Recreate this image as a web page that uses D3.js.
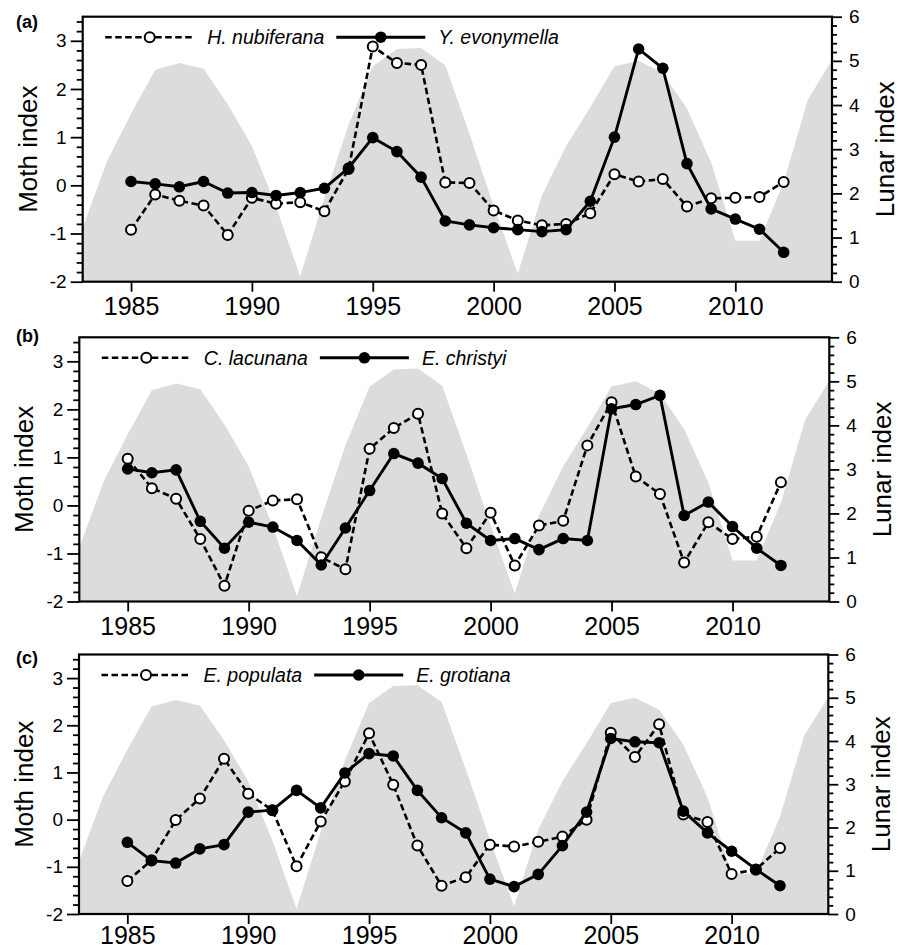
<!DOCTYPE html>
<html><head><meta charset="utf-8">
<script src="https://cdn.jsdelivr.net/npm/d3@7"></script>
<style>
body{margin:0;background:#fff;}
svg{display:block;font-family:"Liberation Sans",Arial,Helvetica,sans-serif;}
</style>
</head><body>
<svg id="chart" width="906" height="948"></svg>
<script>
// ---------- DATA ----------
const lunarYears = [1983,1984,1985,1986,1987,1988,1989,1990,1991,1992,1993,1994,1995,1996,1997,1998,1999,2000,2001,2002,2003,2004,2005,2006,2007,2008,2009,2010,2011,2012,2013,2014];
const lunarIndex = [1.22,2.72,3.8,4.8,4.95,4.82,4.02,3.07,1.7,0.12,1.9,3.55,4.88,5.27,5.29,4.9,3.35,1.72,0.18,1.95,3.07,3.95,4.88,5.0,4.72,3.92,2.7,0.93,0.93,2.25,4.12,5.02];

const mothYears = [1985,1986,1987,1988,1989,1990,1991,1992,1993,1994,1995,1996,1997,1998,1999,2000,2001,2002,2003,2004,2005,2006,2007,2008,2009,2010,2011,2012];

const hNubiferana = [-0.92,-0.19,-0.32,-0.42,-1.03,-0.26,-0.38,-0.35,-0.54,0.34,2.88,2.54,2.50,0.06,0.05,-0.52,-0.73,-0.83,-0.80,-0.58,0.23,0.08,0.13,-0.44,-0.27,-0.26,-0.24,0.07];
const yEvonymella = [0.08,0.03,-0.03,0.08,-0.16,-0.15,-0.21,-0.15,-0.06,0.36,0.99,0.70,0.17,-0.74,-0.82,-0.88,-0.92,-0.96,-0.92,-0.33,1.00,2.83,2.43,0.45,-0.49,-0.70,-0.91,-1.39];

const cLacunana = [0.97,0.36,0.14,-0.70,-1.67,-0.11,0.10,0.13,-1.08,-1.33,1.18,1.61,1.91,-0.17,-0.89,-0.15,-1.25,-0.42,-0.32,1.25,2.15,0.60,0.24,-1.19,-0.35,-0.70,-0.65,0.48];
const eChristyi = [0.76,0.68,0.74,-0.33,-0.89,-0.35,-0.45,-0.73,-1.24,-0.47,0.31,1.08,0.88,0.56,-0.37,-0.73,-0.69,-0.92,-0.69,-0.73,2.01,2.10,2.29,-0.21,0.07,-0.44,-0.89,-1.25];

const ePopulata = [-1.30,-0.86,-0.01,0.45,1.29,0.55,0.20,-0.99,-0.04,0.81,1.83,0.74,-0.55,-1.40,-1.22,-0.53,-0.57,-0.47,-0.36,0.00,1.84,1.33,2.02,0.11,-0.05,-1.15,-1.06,-0.60];
const eGrotiana = [-0.48,-0.87,-0.92,-0.62,-0.53,0.16,0.20,0.62,0.25,0.99,1.40,1.35,0.62,0.04,-0.28,-1.26,-1.42,-1.16,-0.55,0.16,1.72,1.65,1.63,0.18,-0.28,-0.67,-1.05,-1.40];

const panelLetters = ["(a)","(b)","(c)"];
const dashedNames = ["H. nubiferana","C. lacunana","E. populata"];
const solidNames = ["Y. evonymella","E. christyi","E. grotiana"];
const dashedSeries = [hNubiferana, cLacunana, ePopulata];
const solidSeries = [yEvonymella, eChristyi, eGrotiana];

const xTicks = [1985,1990,1995,2000,2005,2010];
const leftTicks = [-2,-1,0,1,2,3];
const rightTicks = [0,1,2,3,4,5,6];
const leftMinor = [-1.8,-1.6,-1.4,-1.2,-0.8,-0.6,-0.4,-0.2,0.2,0.4,0.6,0.8,1.2,1.4,1.6,1.8,2.2,2.4,2.6,2.8,3.2,3.4];
const rightMinor = [0.2,0.4,0.6,0.8,1.2,1.4,1.6,1.8,2.2,2.4,2.6,2.8,3.2,3.4,3.6,3.8,4.2,4.4,4.6,4.8,5.2,5.4,5.6,5.8];

// ---------- LAYOUT ----------
const panels = [
  {left:82.7, right:832,   top:16.7,  bottom:281.7, labelY:28,    xPad:6},
  {left:79.3, right:829.3, top:337.3, bottom:601.5, labelY:341.5, xPad:6},
  {left:79,   right:828.3, top:654.5, bottom:914,   labelY:664,   xPad:2}
];
const GRAY = "#dcdcdc";
const svg = d3.select("#chart");

panels.forEach((p, i) => {
  const g = svg.append("g");
  const x = d3.scaleLinear().domain([1983, 2014]).range([p.left, p.right]);
  const yL = d3.scaleLinear().domain([-2, 3.5]).range([p.bottom, p.top]);
  const yR = d3.scaleLinear().domain([0, 6]).range([p.bottom, p.top]);

  // lunar area
  const area = d3.area()
    .x((d, k) => x(lunarYears[k]))
    .y0(yR(0))
    .y1(d => yR(d));
  g.append("path").datum(lunarIndex).attr("d", area).attr("fill", GRAY);

  // axes
  const fmt = d => String(d);
  const styleAxis = (sel, fs) => {
    sel.select(".domain").remove();
    sel.selectAll(".tick line").attr("stroke", "#000").attr("stroke-width", 1.8);
    sel.selectAll(".tick text").attr("fill", "#000").style("font-size", fs + "px")
      .style("font-family", '"Liberation Sans",Arial,Helvetica,sans-serif');
  };
  g.append("g").attr("transform", `translate(${p.left},0)`)
    .call(d3.axisLeft(yL).tickValues(leftTicks).tickSize(12).tickPadding(4).tickFormat(fmt))
    .call(s => styleAxis(s, 19));
  g.append("g").attr("transform", `translate(${p.left},0)`)
    .call(d3.axisLeft(yL).tickValues(leftMinor).tickSize(6).tickFormat(""))
    .call(s => styleAxis(s, 19));
  g.append("g").attr("transform", `translate(${p.right},0)`)
    .call(d3.axisRight(yR).tickValues(rightTicks).tickSize(10).tickPadding(7).tickFormat(fmt))
    .call(s => styleAxis(s, 19));
  g.append("g").attr("transform", `translate(${p.right},0)`)
    .call(d3.axisRight(yR).tickValues(rightMinor).tickSize(5).tickFormat(""))
    .call(s => styleAxis(s, 19));
  g.append("g").attr("transform", `translate(0,${p.bottom})`)
    .call(d3.axisBottom(x).tickValues(xTicks).tickSize(10).tickPadding(p.xPad).tickFormat(fmt))
    .call(s => styleAxis(s, 25));

  // frame
  g.append("rect").attr("x", p.left).attr("y", p.top)
    .attr("width", p.right - p.left).attr("height", p.bottom - p.top)
    .attr("fill", "none").attr("stroke", "#000").attr("stroke-width", 2.2);

  // series
  const line = d3.line().x((d, k) => x(mothYears[k])).y(d => yL(d));
  g.append("path").datum(dashedSeries[i]).attr("d", line)
    .attr("fill", "none").attr("stroke", "#000").attr("stroke-width", 2.6)
    .attr("stroke-dasharray", "6.5,3.5");
  g.selectAll(".open").data(dashedSeries[i]).enter().append("circle")
    .attr("cx", (d, k) => x(mothYears[k])).attr("cy", d => yL(d)).attr("r", 5)
    .attr("fill", "#fff").attr("stroke", "#000").attr("stroke-width", 2);
  g.append("path").datum(solidSeries[i]).attr("d", line)
    .attr("fill", "none").attr("stroke", "#000").attr("stroke-width", 2.9);
  g.selectAll(".filled").data(solidSeries[i]).enter().append("circle")
    .attr("cx", (d, k) => x(mothYears[k])).attr("cy", d => yL(d)).attr("r", 5.8)
    .attr("fill", "#000");

  // legend
  const ly = p.top + 20.5;
  let lx = p.left + 22.5;
  const sampleLen = 89;
  g.append("line").attr("x1", lx).attr("x2", lx + sampleLen).attr("y1", ly).attr("y2", ly)
    .attr("stroke", "#000").attr("stroke-width", 2.6).attr("stroke-dasharray", "6.5,3.5");
  g.append("circle").attr("cx", lx + sampleLen / 2).attr("cy", ly).attr("r", 5)
    .attr("fill", "#fff").attr("stroke", "#000").attr("stroke-width", 2);
  const t1 = g.append("text").attr("x", lx + sampleLen + 13).attr("y", ly + 7)
    .style("font-size", "19.5px").style("font-style", "italic").text(dashedNames[i]);
  lx = lx + sampleLen + 13 + t1.node().getComputedTextLength() + 12;
  g.append("line").attr("x1", lx).attr("x2", lx + sampleLen).attr("y1", ly).attr("y2", ly)
    .attr("stroke", "#000").attr("stroke-width", 2.9);
  g.append("circle").attr("cx", lx + sampleLen / 2).attr("cy", ly).attr("r", 5.8).attr("fill", "#000");
  g.append("text").attr("x", lx + sampleLen + 13).attr("y", ly + 7)
    .style("font-size", "19.5px").style("font-style", "italic").text(solidNames[i]);

  // panel letter
  g.append("text").attr("x", 16).attr("y", p.labelY)
    .style("font-size", "18px").style("font-weight", "bold").text(panelLetters[i]);

  // axis titles
  const cy = (p.top + p.bottom) / 2;
  g.append("text").attr("transform", `translate(${p.left - 46},${cy}) rotate(-90)`)
    .attr("text-anchor", "middle").style("font-size", "26px").text("Moth index");
  g.append("text").attr("transform", `translate(${p.right + 61.5},${cy}) rotate(-90)`)
    .attr("text-anchor", "middle").style("font-size", "26px").text("Lunar index");
});
</script>
</body></html>
